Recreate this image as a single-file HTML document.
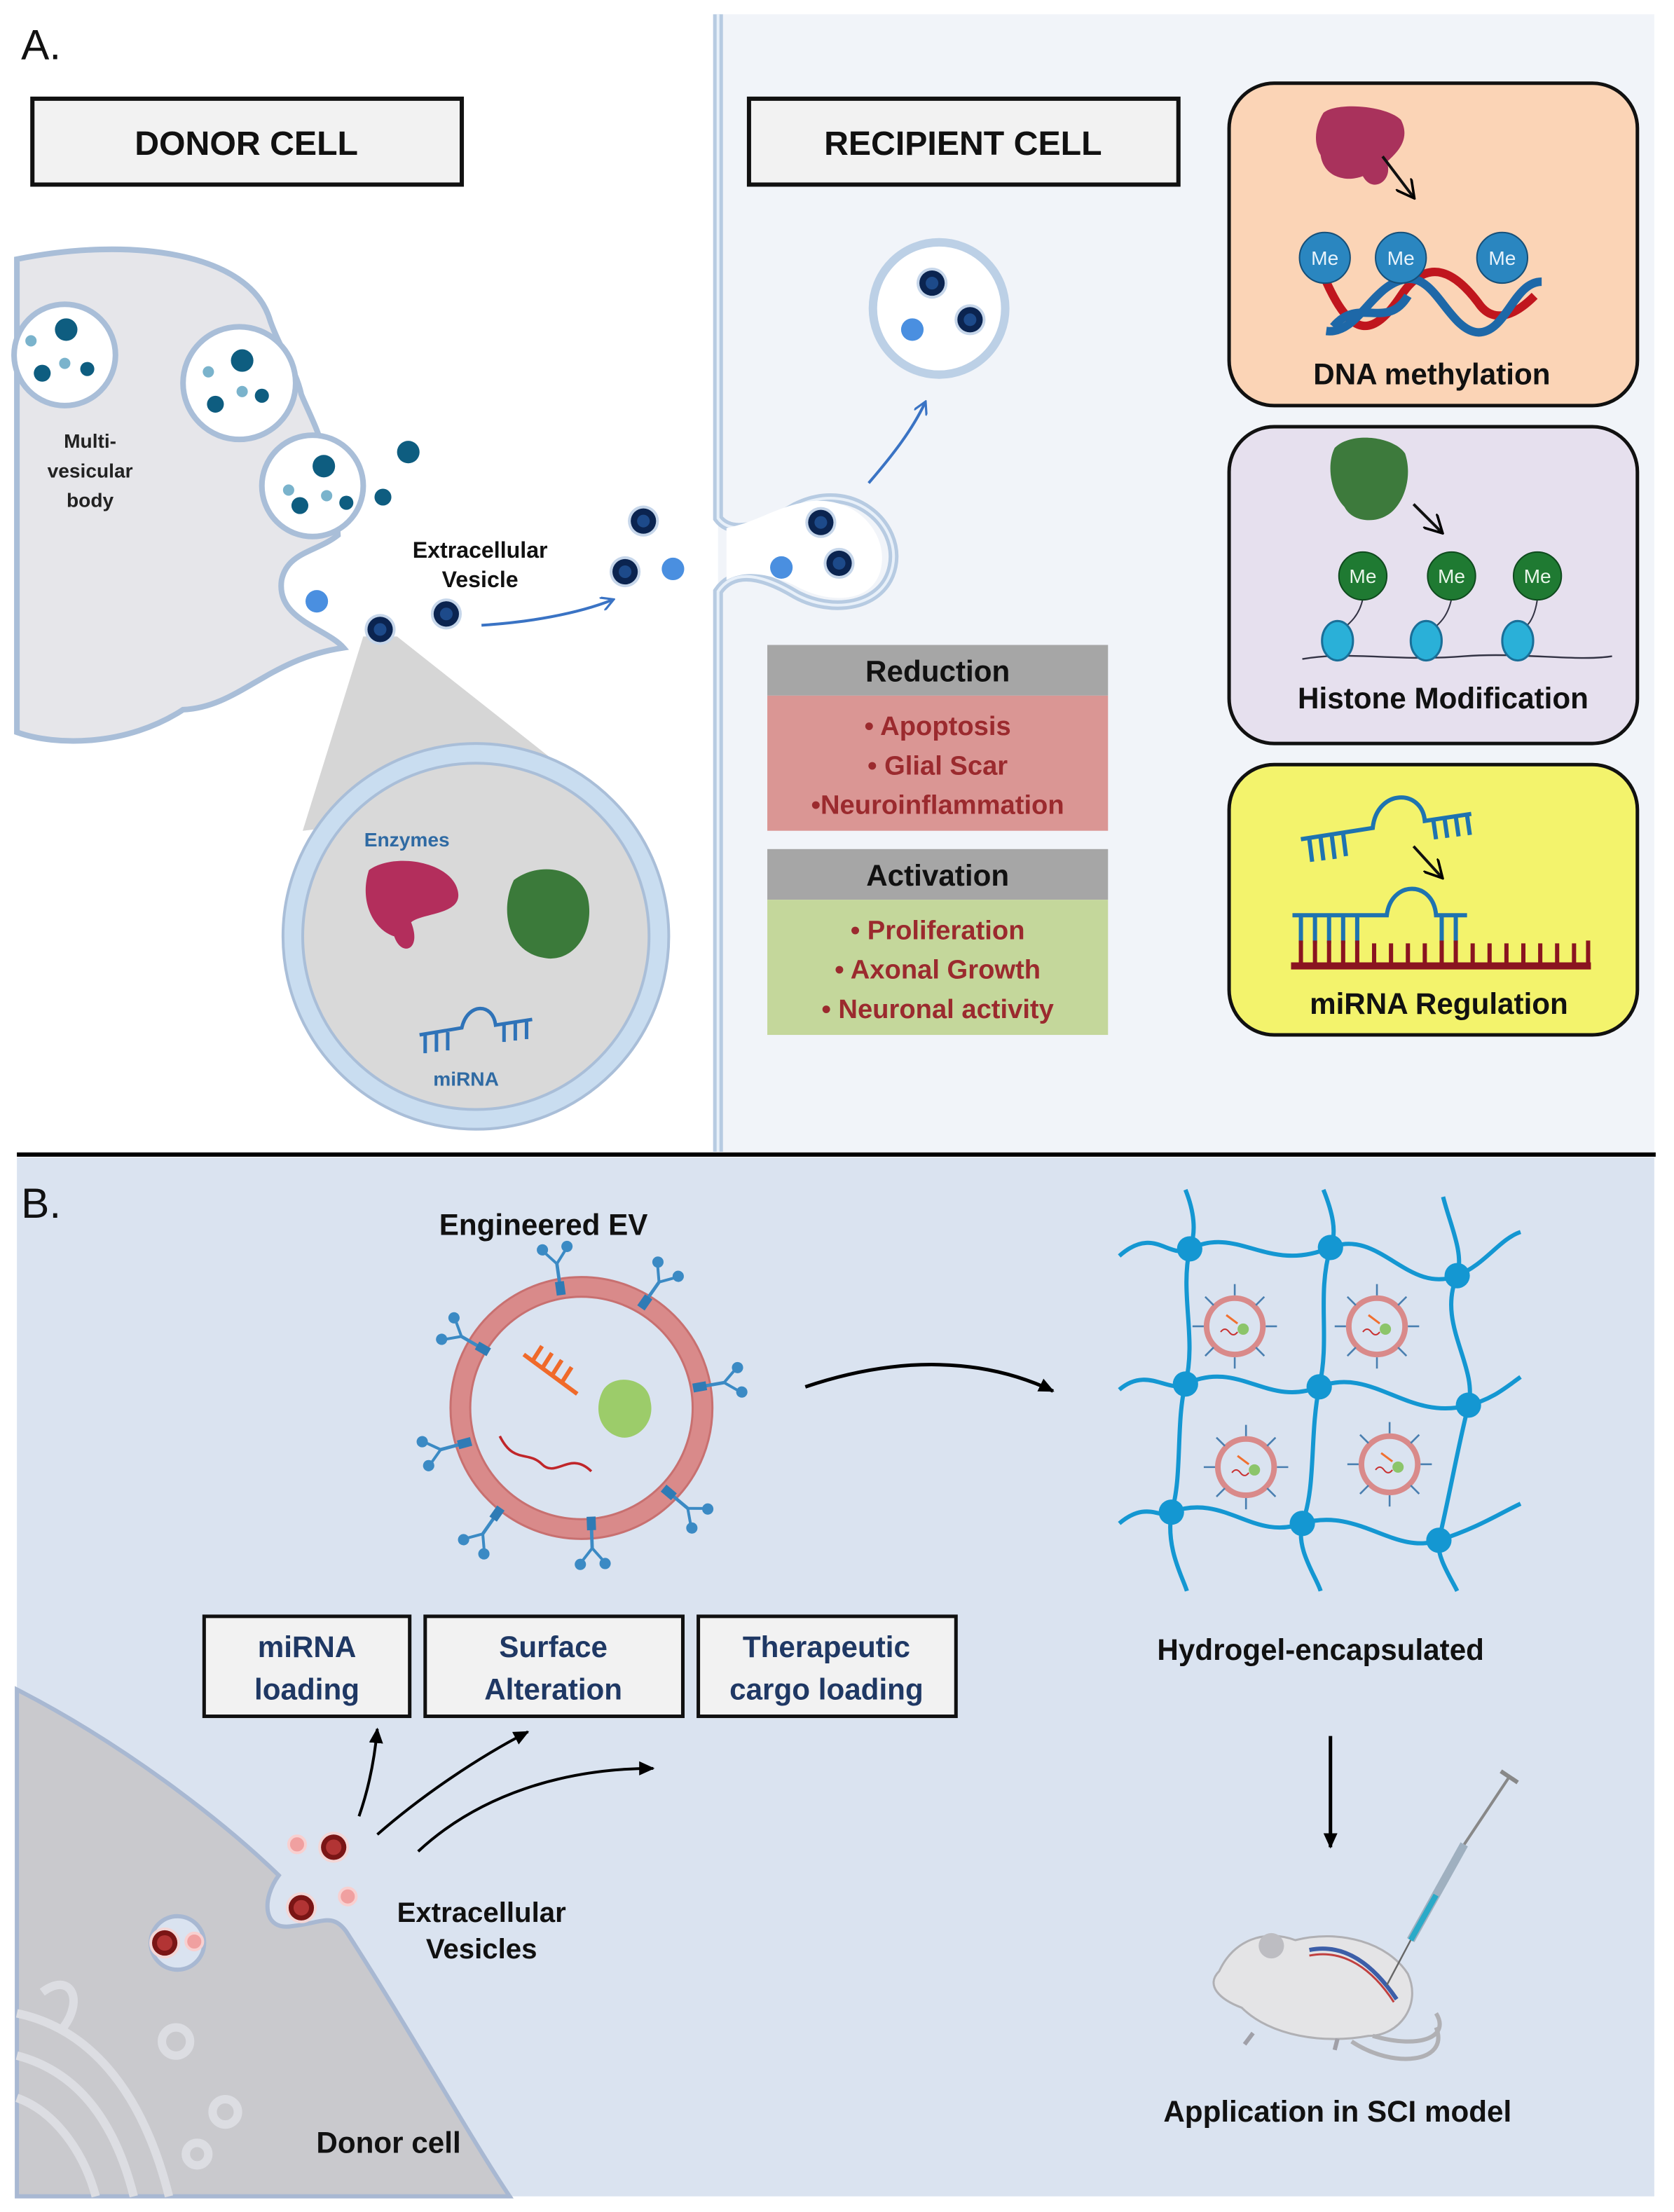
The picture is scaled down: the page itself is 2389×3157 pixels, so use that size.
<!DOCTYPE html>
<html><head><meta charset="utf-8"><style>
html,body{margin:0;padding:0;background:#fff}
svg{display:block}
text{font-family:"Liberation Sans",sans-serif}
</style></head><body>
<svg width="2389" height="3157" viewBox="0 0 1189 1571" xmlns="http://www.w3.org/2000/svg">
<defs>
<marker id="ab" markerWidth="10" markerHeight="10" refX="8" refY="5" orient="auto" markerUnits="userSpaceOnUse"><path d="M0,0 L9,5 L0,10" fill="none" stroke="#3a73c4" stroke-width="1.6"/></marker>
<marker id="ak" markerWidth="12" markerHeight="12" refX="10" refY="6" orient="auto" markerUnits="userSpaceOnUse"><path d="M0,1 L11,6 L0,11 Z" fill="#000"/></marker>
<marker id="ao" markerWidth="14" markerHeight="14" refX="12" refY="7" orient="auto" markerUnits="userSpaceOnUse"><path d="M0,0 L13,7 L0,14" fill="none" stroke="#000" stroke-width="1.8"/></marker>
<g id="ves"><circle r="11" fill="#c6d6ea"/><circle r="9" fill="#0b2450"/><circle r="4.5" fill="#1d4a8a"/></g>
<g id="rves"><circle r="11" fill="#f3d6d6"/><circle r="9" fill="#7a1515"/><circle r="5.5" fill="#b23434"/></g>
<g id="ab1"><line x1="0" y1="0" x2="0" y2="-22" stroke="#3b8ac4" stroke-width="3"/><line x1="0" y1="-22" x2="-10" y2="-34" stroke="#3b8ac4" stroke-width="2.5"/><line x1="0" y1="-22" x2="10" y2="-34" stroke="#3b8ac4" stroke-width="2.5"/><circle cx="-11" cy="-36" r="5" fill="#3b8ac4"/><circle cx="11" cy="-36" r="5" fill="#3b8ac4"/><rect x="-4" y="-6" width="8" height="12" fill="#2f7bb5"/></g>
<g id="mini"><circle r="20" fill="none" stroke="#d98a8a" stroke-width="4"/><g stroke="#4a7fb0" stroke-width="1.3"><line x1="0" y1="-22" x2="0" y2="-30"/><line x1="0" y1="22" x2="0" y2="30"/><line x1="-22" y1="0" x2="-30" y2="0"/><line x1="22" y1="0" x2="30" y2="0"/><line x1="15" y1="15" x2="21" y2="21"/><line x1="-15" y1="15" x2="-21" y2="21"/><line x1="15" y1="-15" x2="21" y2="-21"/><line x1="-15" y1="-15" x2="-21" y2="-21"/></g><circle cx="6" cy="2" r="4" fill="#8cc56a"/><path d="M-10,4 q3,-4 6,0 t6,0" fill="none" stroke="#c83030" stroke-width="1"/><line x1="-6" y1="-8" x2="2" y2="-2" stroke="#f07030" stroke-width="1.5"/></g>
</defs>

<rect x="0" y="0" width="1189" height="1571" fill="#fff"/>
<rect x="510" y="10" width="665" height="808" fill="#f1f4f9"/>
<text x="15" y="42" font-size="30" fill="#111">A.</text>

<path d="M12,184 C90,168 178,178 192,228 C200,250 210,262 214,280 C222,300 236,320 240,380 C225,392 204,392 200,412 C196,440 232,446 244,460 C190,468 170,502 130,504 C90,530 40,530 12,520 Z" fill="#e6e6ea" stroke="#a9bed8" stroke-width="4"/>
<circle cx="46" cy="252" r="36" fill="#fff" stroke="#a9bed8" stroke-width="4"/>
<circle cx="170" cy="272" r="40" fill="#fff" stroke="#a9bed8" stroke-width="4"/>
<circle cx="222" cy="345" r="36" fill="#fff" stroke="#a9bed8" stroke-width="4"/>
<g fill="#0e5d80"><circle cx="47" cy="234" r="8"/><circle cx="30" cy="265" r="6"/><circle cx="62" cy="262" r="5"/><circle cx="172" cy="256" r="8"/><circle cx="153" cy="287" r="6"/><circle cx="186" cy="281" r="5"/><circle cx="230" cy="331" r="8"/><circle cx="213" cy="359" r="6"/><circle cx="246" cy="357" r="5"/><circle cx="290" cy="321" r="8"/><circle cx="272" cy="353" r="6"/></g>
<g fill="#7ab3cc"><circle cx="22" cy="242" r="4"/><circle cx="46" cy="258" r="4"/><circle cx="148" cy="264" r="4"/><circle cx="172" cy="278" r="4"/><circle cx="205" cy="348" r="4"/><circle cx="232" cy="352" r="4"/></g>
<text font-size="14" font-weight="bold" fill="#222" text-anchor="middle"><tspan x="64" y="318">Multi-</tspan><tspan x="64" y="339">vesicular</tspan><tspan x="64" y="360">body</tspan></text>
<circle cx="225" cy="427" r="8" fill="#4a8fe0"/>
<path d="M258,452 L282,452 L425,565 L215,590 Z" fill="#d6d6d6"/>
<circle cx="338" cy="665" r="130" fill="#d9d9d9" stroke="#c9ddf0" stroke-width="14"/>
<circle cx="338" cy="665" r="137" fill="none" stroke="#a9bed8" stroke-width="2"/>
<circle cx="338" cy="665" r="123" fill="none" stroke="#a9bed8" stroke-width="2"/>
<use href="#ves" x="270" y="447"/><use href="#ves" x="317" y="436"/>
<text x="289" y="601" font-size="14" font-weight="bold" fill="#2f6aa3" text-anchor="middle">Enzymes</text>
<path d="M262,618 C280,605 320,612 325,632 C330,650 300,648 292,655 C300,675 285,680 280,665 C265,660 255,640 262,618 Z" fill="#b32e5c"/>
<path d="M365,625 C385,610 415,618 418,640 C422,665 405,685 385,680 C360,675 355,645 365,625 Z" fill="#3b7a3a"/>
<g stroke="#2f73b8" stroke-width="2.5" fill="none"><path d="M298,735 L328,730 C332,712 350,712 352,728 L378,724"/><line x1="302" y1="735" x2="302" y2="748"/><line x1="310" y1="734" x2="310" y2="747"/><line x1="318" y1="733" x2="318" y2="746"/><line x1="358" y1="727" x2="358" y2="740"/><line x1="366" y1="726" x2="366" y2="739"/><line x1="374" y1="725" x2="374" y2="738"/></g>
<text x="331" y="771" font-size="14" font-weight="bold" fill="#2f6aa3" text-anchor="middle">miRNA</text>
<text font-size="16" font-weight="bold" fill="#111" text-anchor="middle"><tspan x="341" y="396">Extracellular</tspan><tspan x="341" y="417">Vesicle</tspan></text>
<path d="M342,444 C375,442 410,436 435,426" fill="none" stroke="#3a73c4" stroke-width="2" marker-end="url(#ab)"/>
<use href="#ves" x="457" y="370"/><use href="#ves" x="444" y="406"/><circle cx="478" cy="404" r="8" fill="#4a8fe0"/>

<path d="M510,10 L510,368 C520,382 545,372 565,360 C605,340 640,372 634,402 C628,432 590,436 565,422 C545,410 522,402 510,420 L510,818" fill="none" stroke="#b7cbe2" stroke-width="7"/>
<path d="M510,10 L510,368 C520,382 545,372 565,360 C605,340 640,372 634,402 C628,432 590,436 565,422 C545,410 522,402 510,420 L510,818" fill="none" stroke="#e8f0f9" stroke-width="2"/>
<path d="M516,375 C540,370 550,360 575,356 C610,352 630,380 626,402 C622,428 590,430 565,416 C548,408 530,404 516,412 Z" fill="#fff"/>
<use href="#ves" x="583" y="371"/><use href="#ves" x="596" y="400"/><circle cx="555" cy="403" r="8" fill="#4a8fe0"/>
<path d="M617,343 C635,322 648,305 657,286" fill="none" stroke="#3a73c4" stroke-width="2" marker-end="url(#ab)"/>
<circle cx="667" cy="219" r="47" fill="#fff" stroke="#bcd0e6" stroke-width="6"/>
<use href="#ves" x="662" y="201"/><use href="#ves" x="689" y="227"/><circle cx="648" cy="234" r="8" fill="#4a8fe0"/>

<rect x="23" y="70" width="305" height="61" fill="#f2f2f2" stroke="#111" stroke-width="3"/>
<text x="175" y="110" font-size="24" font-weight="bold" fill="#111" text-anchor="middle">DONOR CELL</text>
<rect x="532" y="70" width="305" height="61" fill="#f2f2f2" stroke="#111" stroke-width="3"/>
<text x="684" y="110" font-size="24" font-weight="bold" fill="#111" text-anchor="middle">RECIPIENT  CELL</text>

<rect x="545" y="458" width="242" height="36" fill="#a6a6a6"/>
<rect x="545" y="494" width="242" height="96" fill="#da9694"/>
<text x="666" y="484" font-size="21" font-weight="bold" fill="#111" text-anchor="middle">Reduction</text>
<g font-size="19" font-weight="bold" fill="#9b2a2e" text-anchor="middle"><text x="666" y="522">• Apoptosis</text><text x="666" y="550">• Glial Scar</text><text x="666" y="578">•Neuroinflammation</text></g>
<rect x="545" y="603" width="242" height="36" fill="#a6a6a6"/>
<rect x="545" y="639" width="242" height="96" fill="#c4d79b"/>
<text x="666" y="629" font-size="21" font-weight="bold" fill="#111" text-anchor="middle">Activation</text>
<g font-size="19" font-weight="bold" fill="#9b2a2e" text-anchor="middle"><text x="666" y="667">• Proliferation</text><text x="666" y="695">• Axonal Growth</text><text x="666" y="723">• Neuronal activity</text></g>

<rect x="873" y="59" width="290" height="229" rx="32" fill="#fbd4b6" stroke="#111" stroke-width="2.5"/>
<path d="M940,80 C950,72 985,75 995,85 C1003,100 990,110 985,115 C990,128 975,138 968,125 C955,130 940,125 938,110 C932,100 935,88 940,80 Z" fill="#a9325c"/>
<line x1="982" y1="111" x2="1004" y2="140" stroke="#111" stroke-width="2" marker-end="url(#ao)"/>
<path d="M942,200 C960,240 975,240 995,210 C1015,180 1035,195 1050,215 C1060,230 1075,225 1090,210" fill="none" stroke="#c0161e" stroke-width="6"/>
<path d="M942,235 C965,238 975,200 1000,198 C1020,196 1030,235 1050,236 C1070,236 1075,200 1095,200" fill="none" stroke="#1e68a8" stroke-width="6"/>
<path d="M947,232 C965,210 985,235 1000,210" fill="none" stroke="#1e68a8" stroke-width="6"/>
<g fill="#2a86c0" stroke="#164f78" stroke-width="1"><circle cx="941" cy="183" r="18"/><circle cx="995" cy="183" r="18"/><circle cx="1067" cy="183" r="18"/></g>
<g font-size="14" fill="#e8f3fb" text-anchor="middle"><text x="941" y="188">Me</text><text x="995" y="188">Me</text><text x="1067" y="188">Me</text></g>
<text x="1017" y="273" font-size="21" font-weight="bold" fill="#111" text-anchor="middle">DNA methylation</text>

<rect x="873" y="303" width="290" height="225" rx="32" fill="#e6e0ee" stroke="#111" stroke-width="2.5"/>
<path d="M948,318 C960,306 990,310 998,322 C1004,340 996,360 985,366 C975,372 960,370 955,360 C945,350 942,330 948,318 Z" fill="#3d7a3c"/>
<line x1="1004" y1="358" x2="1024" y2="378" stroke="#111" stroke-width="2" marker-end="url(#ao)"/>
<path d="M925,468 C960,462 990,470 1040,466 C1080,463 1120,470 1145,466" fill="none" stroke="#334" stroke-width="1.2"/>
<g stroke="#334" stroke-width="1" fill="none"><path d="M968,425 C965,440 955,445 950,450"/><path d="M1031,425 C1028,440 1020,445 1013,450"/><path d="M1092,425 C1090,440 1085,445 1078,450"/></g>
<g fill="#2ab0d8" stroke="#1a6f98" stroke-width="1.5"><ellipse cx="950" cy="455" rx="11" ry="14"/><ellipse cx="1013" cy="455" rx="11" ry="14"/><ellipse cx="1078" cy="455" rx="11" ry="14"/></g>
<g fill="#1f7a32" stroke="#0f4a1e" stroke-width="1"><circle cx="968" cy="409" r="17"/><circle cx="1031" cy="409" r="17"/><circle cx="1092" cy="409" r="17"/></g>
<g font-size="14" fill="#e9f6ea" text-anchor="middle"><text x="968" y="414">Me</text><text x="1031" y="414">Me</text><text x="1092" y="414">Me</text></g>
<text x="1025" y="503" font-size="21" font-weight="bold" fill="#111" text-anchor="middle">Histone Modification</text>

<rect x="873" y="543" width="290" height="192" rx="32" fill="#f3f36c" stroke="#111" stroke-width="2.5"/>
<g stroke="#1e73b0" stroke-width="3" fill="none"><path d="M924,596 L975,588 C978,560 1010,560 1012,583 L1045,578"/><line x1="930" y1="596" x2="932" y2="612"/><line x1="938" y1="595" x2="940" y2="611"/><line x1="946" y1="594" x2="948" y2="610"/><line x1="954" y1="592" x2="956" y2="608"/><line x1="1018" y1="582" x2="1020" y2="596"/><line x1="1026" y1="581" x2="1028" y2="595"/><line x1="1034" y1="580" x2="1036" y2="594"/><line x1="1042" y1="579" x2="1044" y2="593"/></g>
<line x1="1004" y1="601" x2="1024" y2="623" stroke="#111" stroke-width="2" marker-end="url(#ao)"/>
<g stroke="#1e73b0" stroke-width="3" fill="none"><path d="M918,650 L985,650 C988,625 1018,625 1020,650 L1042,650"/><line x1="924" y1="650" x2="924" y2="670"/><line x1="934" y1="650" x2="934" y2="670"/><line x1="944" y1="650" x2="944" y2="670"/><line x1="954" y1="650" x2="954" y2="670"/><line x1="964" y1="650" x2="964" y2="670"/><line x1="1024" y1="650" x2="1024" y2="670"/><line x1="1034" y1="650" x2="1034" y2="670"/></g>
<g stroke="#8a1420" stroke-width="3"><line x1="917" y1="686" x2="1130" y2="686" stroke-width="5"/><line x1="924" y1="668" x2="924" y2="686"/><line x1="934" y1="668" x2="934" y2="686"/><line x1="944" y1="668" x2="944" y2="686"/><line x1="954" y1="668" x2="954" y2="686"/><line x1="964" y1="668" x2="964" y2="686"/><line x1="976" y1="670" x2="976" y2="686"/><line x1="988" y1="670" x2="988" y2="686"/><line x1="1000" y1="670" x2="1000" y2="686"/><line x1="1012" y1="670" x2="1012" y2="686"/><line x1="1024" y1="668" x2="1024" y2="686"/><line x1="1034" y1="668" x2="1034" y2="686"/><line x1="1046" y1="670" x2="1046" y2="686"/><line x1="1058" y1="670" x2="1058" y2="686"/><line x1="1070" y1="670" x2="1070" y2="686"/><line x1="1082" y1="670" x2="1082" y2="686"/><line x1="1094" y1="670" x2="1094" y2="686"/><line x1="1106" y1="670" x2="1106" y2="686"/><line x1="1118" y1="670" x2="1118" y2="686"/><line x1="1128" y1="668" x2="1128" y2="686"/></g>
<text x="1022" y="720" font-size="21" font-weight="bold" fill="#111" text-anchor="middle">miRNA Regulation</text>

<rect x="12" y="822" width="1163" height="738" fill="#dae3f0"/>
<line x1="12" y1="820" x2="1176" y2="820" stroke="#000" stroke-width="3"/>
<text x="15" y="865" font-size="30" fill="#111">B.</text>

<path d="M12,1200 C90,1240 160,1295 198,1332 C186,1348 186,1372 208,1368 C228,1366 236,1358 246,1372 C290,1440 335,1520 362,1560 L12,1560 Z" fill="#c9c9cd" stroke="#a8b8d2" stroke-width="3"/>
<g fill="none" stroke="#dcdde2" stroke-width="6"><path d="M12,1430 C60,1440 100,1480 120,1560"/><path d="M12,1460 C50,1470 80,1500 95,1560"/><path d="M12,1490 C40,1500 60,1530 68,1560"/><path d="M30,1415 C50,1400 60,1420 45,1440"/><circle cx="125" cy="1450" r="10"/><circle cx="160" cy="1500" r="9"/><circle cx="140" cy="1530" r="8"/></g>
<circle cx="126" cy="1380" r="19" fill="#dae3f0" stroke="#a8b8d2" stroke-width="3"/>
<use href="#rves" x="117" y="1380"/><circle cx="138" cy="1379" r="6" fill="#f0a0a0" stroke="#f8d0d0" stroke-width="2"/>
<use href="#rves" x="237" y="1312"/><use href="#rves" x="214" y="1355"/>
<circle cx="211" cy="1310" r="6" fill="#f0a0a0" stroke="#f8d0d0" stroke-width="2"/><circle cx="247" cy="1347" r="6" fill="#f0a0a0" stroke="#f8d0d0" stroke-width="2"/>
<text font-size="20" font-weight="bold" fill="#111" text-anchor="middle"><tspan x="342" y="1365">Extracellular</tspan><tspan x="342" y="1391">Vesicles</tspan></text>
<text x="276" y="1529" font-size="21" font-weight="bold" fill="#111" text-anchor="middle">Donor cell</text>

<path d="M255,1290 C262,1270 266,1250 268,1228" fill="none" stroke="#000" stroke-width="2" marker-end="url(#ak)"/>
<path d="M268,1303 C300,1275 340,1248 375,1230" fill="none" stroke="#000" stroke-width="2" marker-end="url(#ak)"/>
<path d="M297,1315 C340,1275 400,1256 464,1256" fill="none" stroke="#000" stroke-width="2" marker-end="url(#ak)"/>

<g fill="#f2f2f2" stroke="#111" stroke-width="2.5"><rect x="145" y="1148" width="146" height="71"/><rect x="302" y="1148" width="183" height="71"/><rect x="496" y="1148" width="183" height="71"/></g>
<g font-size="21" font-weight="bold" fill="#1f3864" text-anchor="middle"><text x="218" y="1177">miRNA</text><text x="218" y="1207">loading</text><text x="393" y="1177">Surface</text><text x="393" y="1207">Alteration</text><text x="587" y="1177">Therapeutic</text><text x="587" y="1207">cargo loading</text></g>

<text x="386" y="877" font-size="21" font-weight="bold" fill="#111" text-anchor="middle">Engineered  EV</text>
<circle cx="413" cy="1000" r="86" fill="none" stroke="#d98a8a" stroke-width="14"/>
<circle cx="413" cy="1000" r="93" fill="none" stroke="#c87070" stroke-width="1.5"/>
<circle cx="413" cy="1000" r="79" fill="none" stroke="#c87070" stroke-width="1.5"/>
<g><use href="#ab1" transform="translate(398,915) rotate(-8) scale(0.8)"/><use href="#ab1" transform="translate(458,925) rotate(35) scale(0.8)"/><use href="#ab1" transform="translate(497,985) rotate(80) scale(0.8)"/><use href="#ab1" transform="translate(475,1060) rotate(130) scale(0.8)"/><use href="#ab1" transform="translate(420,1082) rotate(178) scale(0.8)"/><use href="#ab1" transform="translate(353,1075) rotate(215) scale(0.8)"/><use href="#ab1" transform="translate(330,1025) rotate(255) scale(0.8)"/><use href="#ab1" transform="translate(343,958) rotate(300) scale(0.8)"/></g>
<path d="M428,988 C435,975 460,978 462,995 C466,1012 450,1025 438,1020 C425,1015 422,1000 428,988 Z" fill="#9ccc6a"/>
<g stroke="#f06a2a" stroke-width="3"><line x1="372" y1="962" x2="410" y2="990"/><line x1="378" y1="967" x2="385" y2="956"/><line x1="385" y1="972" x2="392" y2="961"/><line x1="392" y1="977" x2="399" y2="966"/><line x1="399" y1="982" x2="406" y2="971"/></g>
<path d="M355,1020 C365,1040 375,1030 385,1040 C395,1050 405,1030 420,1045" fill="none" stroke="#c0262a" stroke-width="1.8"/>

<path d="M572,985 C640,962 700,965 748,988" fill="none" stroke="#000" stroke-width="2.5" marker-end="url(#ak)"/>

<g fill="none" stroke="#1497d2" stroke-width="3">
<path d="M795,892 C820,870 830,895 845,887 C880,870 900,905 945,886 C980,872 1000,920 1035,906 C1055,898 1065,880 1080,875"/>
<path d="M795,987 C815,970 830,990 842,983 C880,965 900,1000 937,985 C975,970 1000,1010 1043,998 C1060,994 1070,985 1080,978"/>
<path d="M795,1082 C815,1065 825,1080 832,1074 C870,1060 890,1095 925,1082 C965,1070 990,1105 1022,1094 C1050,1085 1065,1075 1080,1068"/>
<path d="M842,845 C848,860 850,875 845,887 C838,920 850,950 842,983 C835,1010 840,1050 832,1074 C828,1100 840,1120 843,1130"/>
<path d="M940,845 C946,860 950,875 945,886 C935,920 945,950 937,985 C930,1020 935,1055 925,1082 C920,1100 935,1120 938,1130"/>
<path d="M1025,850 C1030,870 1040,890 1035,906 C1020,940 1050,970 1043,998 C1035,1030 1030,1060 1022,1094 C1020,1105 1030,1120 1035,1130"/>
</g>
<g fill="#1497d2"><circle cx="845" cy="887" r="9"/><circle cx="945" cy="886" r="9"/><circle cx="1035" cy="906" r="9"/><circle cx="842" cy="983" r="9"/><circle cx="937" cy="985" r="9"/><circle cx="1043" cy="998" r="9"/><circle cx="832" cy="1074" r="9"/><circle cx="925" cy="1082" r="9"/><circle cx="1022" cy="1094" r="9"/></g>
<use href="#mini" x="877" y="942"/><use href="#mini" x="978" y="942"/><use href="#mini" x="885" y="1042"/><use href="#mini" x="987" y="1040"/>
<text x="938" y="1179" font-size="21" font-weight="bold" fill="#111" text-anchor="middle">Hydrogel-encapsulated</text>
<line x1="945" y1="1233" x2="945" y2="1312" stroke="#000" stroke-width="2.5" marker-end="url(#ak)"/>

<path d="M866,1400 C876,1378 898,1370 920,1378 C952,1370 986,1380 1000,1402 C1010,1424 994,1446 972,1446 C940,1452 902,1446 882,1426 C866,1420 856,1410 866,1400 Z" fill="#e4e4e6" stroke="#b0b0b4" stroke-width="1.5"/>
<circle cx="903" cy="1382" r="9" fill="#bdbdc2"/>
<path d="M930,1385 C955,1380 975,1395 992,1420" fill="none" stroke="#3c5ea8" stroke-width="3"/>
<path d="M930,1389 C955,1384 975,1399 990,1422" fill="none" stroke="#c04040" stroke-width="1.5"/>
<path d="M975,1446 C1010,1456 1030,1446 1020,1430 M960,1450 C990,1470 1030,1465 1020,1440" fill="none" stroke="#b0b0b4" stroke-width="3"/>
<g stroke="#a0a0a8" stroke-width="3"><line x1="890" y1="1444" x2="884" y2="1452"/><line x1="950" y1="1448" x2="948" y2="1456"/></g>
<line x1="985" y1="1410" x2="1002" y2="1378" stroke="#666" stroke-width="1.2"/>
<line x1="1002" y1="1378" x2="1040" y2="1310" stroke="#9fb0c0" stroke-width="6"/>
<line x1="1002" y1="1378" x2="1020" y2="1346" stroke="#2aaac8" stroke-width="4"/>
<line x1="1040" y1="1310" x2="1072" y2="1262" stroke="#888" stroke-width="2"/>
<line x1="1066" y1="1258" x2="1078" y2="1266" stroke="#888" stroke-width="3"/>
<text x="950" y="1507" font-size="21" font-weight="bold" fill="#111" text-anchor="middle">Application in SCI model</text>
</svg>
</body></html>
